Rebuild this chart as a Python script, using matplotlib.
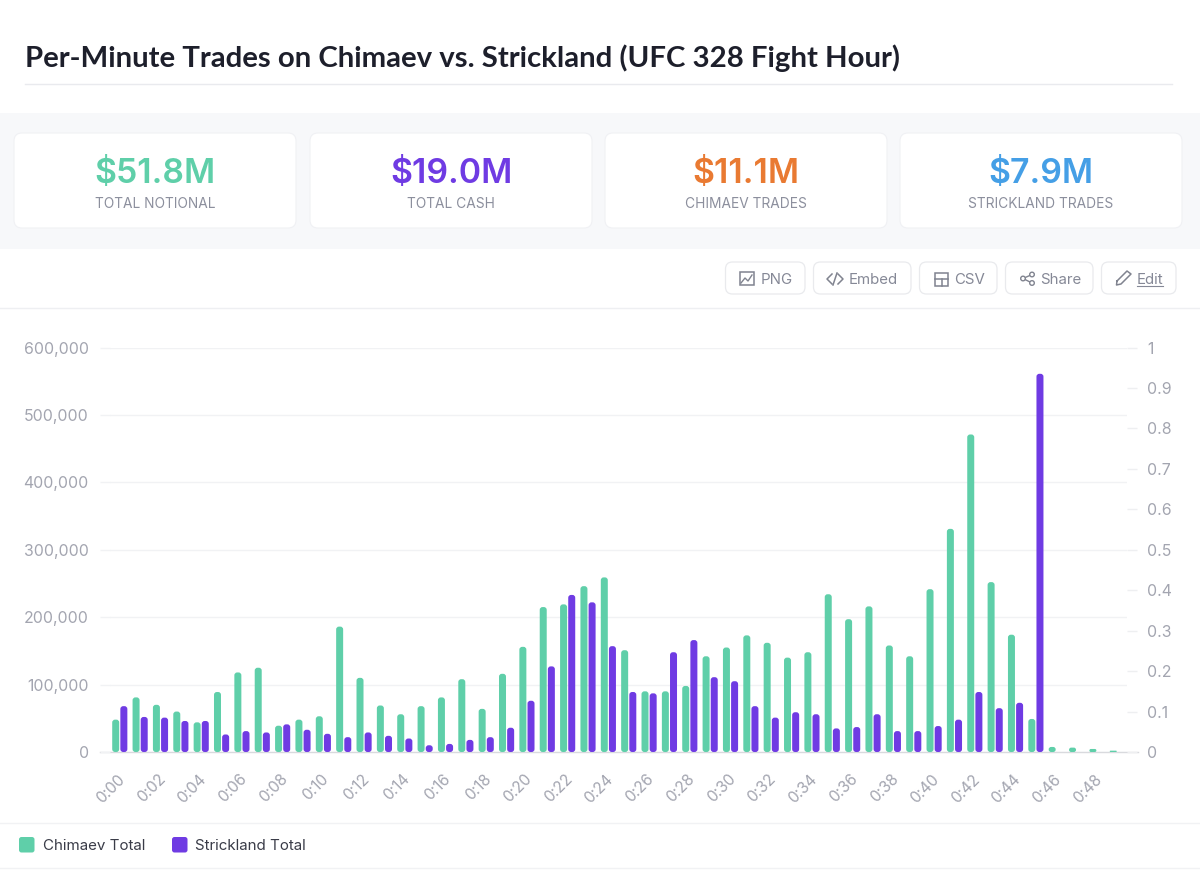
import matplotlib
matplotlib.use('Agg')
import matplotlib.pyplot as plt
from matplotlib.patches import FancyBboxPatch, Rectangle, Circle
from matplotlib.transforms import ScaledTranslation

# values
minutes = ['0:%02d' % m for m in range(50)]
chimaev = [48000, 81000, 70000, 60000, 44000, 89000, 118000, 125000, 39000, 48000,
           53000, 186000, 110000, 69000, 56000, 68000, 81000, 108000, 64000, 116000,
           156000, 215000, 219000, 246000, 259000, 151000, 90000, 90000, 98000, 142000,
           155000, 173000, 162000, 140000, 148000, 234000, 197000, 216000, 158000, 142000,
           241500, 331000, 471000, 252000, 174000, 49000, 7500, 6500, 4500, 2000]
strickland = [68000, 52000, 51000, 46000, 46000, 26000, 31000, 29000, 41000, 33000,
              27000, 22000, 29000, 24000, 20000, 10000, 12000, 18000, 22000, 36000,
              76000, 127000, 233000, 222000, 157000, 89000, 87000, 148000, 166000, 111000,
              105000, 68000, 51000, 59000, 56000, 35000, 37000, 56000, 31000, 31000,
              38500, 48000, 89000, 65000, 73000, 561000, 0, 0, 0, 0]
left_ticks = [0, 100000, 200000, 300000, 400000, 500000, 600000]
right_ticks = [0, 0.1, 0.2, 0.3, 0.4, 0.5, 0.6, 0.7, 0.8, 0.9, 1]
right_labels = ['0', '0.1', '0.2', '0.3', '0.4', '0.5', '0.6', '0.7', '0.8', '0.9', '1']

card_values = ['$51.8M', '$19.0M', '$11.1M', '$7.9M']
card_names = ['TOTAL NOTIONAL', 'TOTAL CASH', 'CHIMAEV TRADES', 'STRICKLAND TRADES']
card_colors = ['#5fcfa9', '#6f3be3', '#e97a32', '#459fe6']
button_names = ['PNG', 'Embed', 'CSV', 'Share', 'Edit']

GREEN = '#5fcfa9'
PURPLE = '#6f3be3'
GRID = '#f1f2f4'
TICK = '#a3a5b0'
W, H = 1200, 872

plt.rcParams['font.family'] = ['Inter', 'DejaVu Sans']

fig = plt.figure(figsize=(W / 100, H / 100), dpi=100, facecolor='white')

# page furniture lives in a pixel-sized overlay
page = fig.add_axes([0, 0, 1, 1], zorder=0)
page.set_xlim(0, W)
page.set_ylim(H, 0)
page.axis('off')

page.text(25, 58, 'Per-Minute Trades on Chimaev vs. Strickland (UFC 328 Fight Hour)',
          fontsize=21.2, fontweight='bold', family=['Lato', 'DejaVu Sans'], color='#1d1f2b',
          va='center', ha='left')
page.plot([25, 1172], [84, 84], color='#e9eaee', lw=1)

page.add_patch(Rectangle((0, 113), W, 136, color='#f7f8fa', lw=0))
card_x = [14, 310, 605, 900]
for x, val, name, col in zip(card_x, card_values, card_names, card_colors):
    page.add_patch(FancyBboxPatch((x, 133), 282, 95, boxstyle='round,pad=0,rounding_size=8',
                                  fc='white', ec='#f0f1f4', lw=0.8))
    page.text(x + 141, 174, val, color=col, fontsize=24.3, fontweight='semibold',
              ha='center', va='center')
    page.text(x + 141, 203.5, name, color='#8c8f9d', fontsize=9.9, ha='center', va='center')

# export buttons
button_x = [(725.5, 805), (813.5, 911), (919.5, 997), (1005.5, 1093), (1101.5, 1176)]
text_x = [760.5, 849, 954, 1040.5, 1136.5]
for (x0, x1), tx, name in zip(button_x, text_x, button_names):
    page.add_patch(FancyBboxPatch((x0, 262), x1 - x0, 32, boxstyle='round,pad=0,rounding_size=7',
                                  fc='white', ec='#e9eaed', lw=0.9))
    page.text(tx, 280, name, color='#858896', fontsize=10.8, ha='left', va='center')
page.plot([1136.5, 1163], [286.5, 286.5], color='#858896', lw=0.8)

ICON = '#80838f'
# PNG icon
page.add_patch(Rectangle((740, 272), 13.5, 13, fc='none', ec=ICON, lw=1.1))
page.plot([741, 745, 748, 752], [283, 278, 281, 275], color=ICON, lw=1)
# embed icon
page.plot([832, 827, 832], [274, 279, 284], color=ICON, lw=1.1)
page.plot([838, 843, 838], [274, 279, 284], color=ICON, lw=1.1)
page.plot([837, 833], [273, 285], color=ICON, lw=1.1)
# csv icon
page.add_patch(Rectangle((935, 273), 13, 13, fc='none', ec=ICON, lw=1.1))
page.plot([935, 948], [279, 279], color=ICON, lw=1.1)
page.plot([941.5, 941.5], [279, 286], color=ICON, lw=1.1)
# share icon
page.plot([1032, 1023, 1032], [274.5, 278.5, 283], color=ICON, lw=1)
for cx, cy in [(1032, 274.5), (1023, 278.5), (1032, 283)]:
    page.add_patch(Circle((cx, cy), 2.3, fc='white', ec=ICON, lw=1, zorder=3))
# edit icon
page.plot([1117, 1127, 1131, 1121, 1116.5, 1117], [281, 271, 274, 284, 285, 281], color=ICON, lw=1.1)

page.plot([0, W], [308, 308], color='#eeeff2', lw=1)
page.plot([0, W], [823, 823], color='#f1f2f4', lw=1)
page.plot([0, W], [868, 868], color='#f1f2f4', lw=1)

# legend
for x, col, name, tx in [(19, GREEN, 'Chimaev Total', 43), (172, PURPLE, 'Strickland Total', 195)]:
    page.add_patch(FancyBboxPatch((x, 837), 15.5, 15.5, boxstyle='round,pad=0,rounding_size=2.5',
                                  fc=col, ec='none'))
    page.text(tx, 846, name, color='#3a3c48', fontsize=10.9, ha='left', va='center')

# chart
left, right, bottom, top = 109.6, 1127.5, 752, 347.5
ax = fig.add_axes([left / W, 1 - bottom / H, (right - left) / W, (bottom - top) / H], zorder=1)
ax.patch.set_alpha(0)
ax.set_xlim(-0.5, 49.5)
ax.set_ylim(0, 600000)
for s in ax.spines.values():
    s.set_visible(False)

bar_w = 7 / 20.36
aspect = (600000 / (bottom - top)) * 20.36


def rounded_bars(xpos, values, color):
    for x, v in zip(xpos, values):
        if v <= 0:
            continue
        r = min(0.14, v / aspect / 2)
        ax.add_patch(FancyBboxPatch((x - bar_w / 2, 0), bar_w, v, fc=color, ec='none', zorder=3,
                                    boxstyle='round,pad=0,rounding_size=%f' % r,
                                    mutation_aspect=aspect))


xs = list(range(len(minutes)))
rounded_bars([x - 0.2 for x in xs], chimaev, GREEN)
rounded_bars([x + 0.2 for x in xs], strickland, PURPLE)

ax.set_yticks(left_ticks)
ax.set_yticklabels(['{:,}'.format(t) for t in left_ticks], fontsize=11.4, color=TICK)
ax.tick_params(axis='y', length=7, width=1, color=GRID, pad=8)
ax.grid(axis='y', color=GRID, lw=1, zorder=0)
ax.set_axisbelow(True)

ax.set_xticks(xs[::2])
ax.set_xticklabels(minutes[::2], rotation=45, ha='right', rotation_mode='anchor',
                   fontsize=11.1, color=TICK)
ax.tick_params(axis='x', length=0, pad=14)
# labels end a little left of the tick
shift = ScaledTranslation(-2 / 72, 0, fig.dpi_scale_trans)
for label in ax.get_xticklabels():
    label.set_transform(label.get_transform() + shift)

ax2 = ax.twinx()
ax2.set_ylim(0, 1)
ax2.set_yticks(right_ticks)
ax2.set_yticklabels(right_labels, fontsize=11.4, color=TICK)
ax2.tick_params(axis='y', length=7.5, width=1, color='#eeeff1', pad=6.5)
for s in ax2.spines.values():
    s.set_visible(False)

page.plot([100, 1138], [752, 752], color='#d9dade', lw=1, zorder=1)

fig.savefig('out.png', dpi=100)
